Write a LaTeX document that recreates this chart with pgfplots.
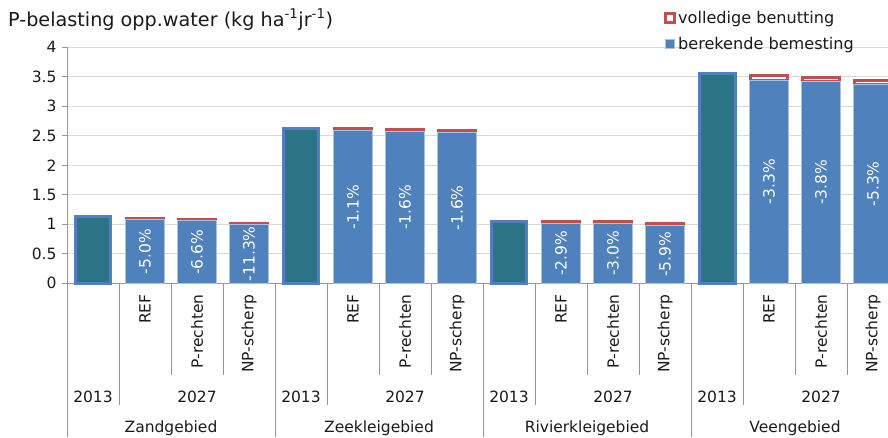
\documentclass[border=0pt]{standalone}
\usepackage{pgfplots}
\pgfplotsset{compat=1.18}
\usepackage{fontspec}
\setmainfont{DejaVu Sans}
\definecolor{bluef}{RGB}{79,129,189}
\definecolor{blueedge}{RGB}{170,195,228}
\definecolor{tealf}{RGB}{43,116,134}
\definecolor{redl}{RGB}{192,80,77}
\definecolor{gridc}{RGB}{217,217,217}
\definecolor{axc}{RGB}{150,150,150}
\definecolor{txt}{RGB}{26,26,26}

\begin{document}
\begin{tikzpicture}[font=\fontsize{15.5}{18}\selectfont, text=txt]
\pgfplotsset{
  base/.style={
    scale only axis, width=832pt, height=236pt,
    xmin=-0.5, xmax=15.5, ymin=0, ymax=4,
    at={(0pt,0pt)}, anchor=south west,
    clip=false,
    axis lines*=left,
    tick align=outside,
    tick style={axc, line width=1pt},
  }
}
% main axis: stacked bars 2027
\begin{axis}[base,
  ybar stacked,
  axis line style={axc, line width=1pt},
  ytick={0,0.5,1,1.5,2,2.5,3,3.5,4},
  ymajorgrids, grid style={gridc, line width=1pt},
  major tick length=5pt,
  xtick=\empty,
  yticklabel style={/pgf/number format/assume math mode=true},
  yticklabel shift=2pt,
  reverse legend,
  legend image code/.code={\draw[#1] (0pt,-4.5pt) rectangle (9pt,4.5pt);},
  legend cell align=left,
  legend style={draw=none, fill=none, at={(0.7175,1.162)}, anchor=north west,
    inner sep=0pt, row sep=8pt, nodes={inner sep=2pt},
    font=\fontsize{16.1}{19}\selectfont},
]
\addplot[fill=bluef, draw=blueedge, line width=1pt, bar width=0.7365] coordinates {
(1,1.075) (2,1.057) (3,1.004)
(5,2.585) (6,2.570) (7,2.560)
(9,1.017) (10,1.016) (11,0.985)
(13,3.443) (14,3.426) (15,3.372)};
\addplot[fill=white, draw=redl, line width=3pt, bar width=0.698] coordinates {
(1,0.017) (2,0.017) (3,0.017)
(5,0.034) (6,0.034) (7,0.029)
(9,0.034) (10,0.034) (11,0.034)
(13,0.075) (14,0.056) (15,0.063)};
\legend{berekende bemesting, volledige benutting}
\end{axis}
% 2013 bars and year level
\begin{axis}[base,
  ybar, bar shift=0pt, bar width=0.692,
  axis line style={draw=none},
  ytick=\empty,
  major tick length=0pt, minor tick length=122pt,
  xtick={0,2,4,6,8,10,12,14},
  xticklabels={2013,2027,2013,2027,2013,2027,2013,2027},
  minor xtick={0.5,4.5,8.5,12.5},
  xticklabel style={anchor=base, inner sep=0pt},
  xticklabel shift=119pt,
]
\addplot[fill=tealf, draw=bluef, line width=3pt] coordinates {
(0,1.132) (4,2.619) (8,1.047) (12,3.561)};
\end{axis}
% scenario level
\begin{axis}[base,
  axis line style={draw=none},
  ytick=\empty,
  major tick length=0pt, minor tick length=92pt,
  xtick={0,...,15},
  xticklabels={{},REF,P-rechten,NP-scherp,{},REF,P-rechten,NP-scherp,{},REF,P-rechten,NP-scherp,{},REF,P-rechten,NP-scherp},
  minor xtick={1.5,2.5,5.5,6.5,9.5,10.5,13.5,14.5},
  xticklabel style={rotate=90, anchor=east, inner sep=0pt},
  xticklabel shift=11pt,
]
\addplot[draw=none, mark=none] coordinates {(0,0) (15,0)};
\end{axis}
% group level and percentage labels
\begin{axis}[base,
  axis line style={draw=none},
  ytick=\empty,
  major tick length=0pt, minor tick length=154pt,
  xtick={1.5,5.5,9.5,13.5},
  xticklabels={Zandgebied,Zeekleigebied,Rivierkleigebied,Veengebied},
  minor xtick={-0.5,3.5,7.5,11.5,15.5},
  xticklabel style={anchor=base, inner sep=0pt},
  xticklabel shift=148.7pt,
]
\addplot[only marks, mark=*, mark size=0pt,
  mark options={draw=none, fill=none},
  nodes near coords, point meta=explicit symbolic,
  every node near coord/.append style={rotate=90, anchor=center, text=white}]
  table[meta=lab] {
x y lab
1 0.5375 -5.0\%
2 0.5285 -6.6\%
3 0.502 -11.3\%
5 1.2925 -1.1\%
6 1.285 -1.6\%
7 1.28 -1.6\%
9 0.5085 -2.9\%
10 0.508 -3.0\%
11 0.4925 -5.9\%
13 1.7215 -3.3\%
14 1.713 -3.8\%
15 1.686 -5.3\%
};
\end{axis}
\node[anchor=base west, inner sep=0pt, font=\fontsize{19.2}{21}\selectfont] at (-59pt,257.3pt) {P-belasting opp.water (kg ha\textsuperscript{-1}jr\textsuperscript{-1})};
\pgfresetboundingbox
\path[use as bounding box] (-67pt,-153.7pt) rectangle (821pt,283.3pt);
\end{tikzpicture}
\end{document}
